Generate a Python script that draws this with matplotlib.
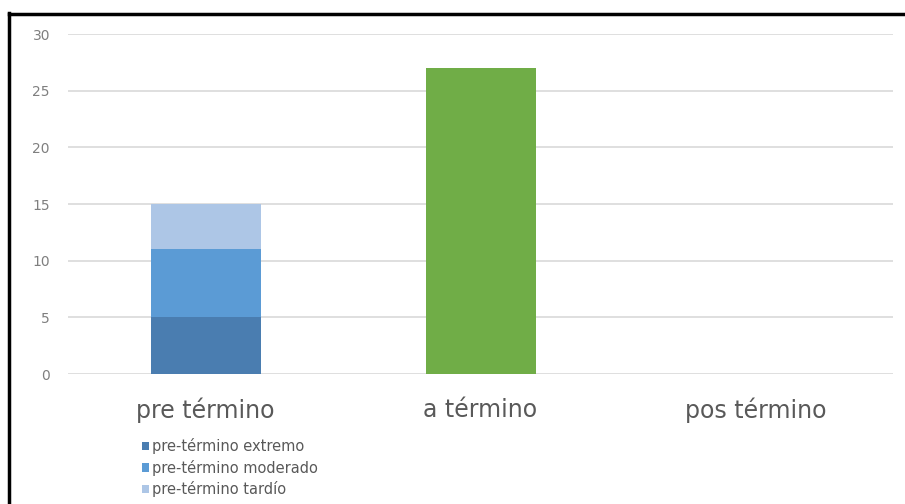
import numpy as np
import matplotlib.pyplot as plt
from matplotlib.lines import Line2D

plt.rcParams['font.family'] = ['DejaVu Sans']

categorias = ["pre término", "a término", "pos término"]
extremo = [5, 0, 0]
moderado = [6, 0, 0]
tardio = [4, 0, 0]
a_termino = [0, 27, 0]
etiquetas = ["pre-término extremo", "pre-término moderado", "pre-término tardío"]
yticks = [0, 5, 10, 15, 20, 25, 30]

fig = plt.figure(figsize=(9.05, 5.04), dpi=100)
ax = fig.add_axes([68 / 905, 130 / 504, 825 / 905, 340 / 504])

x = np.arange(len(categorias))
ancho = 0.4
extremo = np.array(extremo)
moderado = np.array(moderado)
tardio = np.array(tardio)

b1 = ax.bar(x, extremo, ancho, color='#4a7db0', label=etiquetas[0], zorder=2)
b2 = ax.bar(x, moderado, ancho, bottom=extremo, color='#5b9bd5', label=etiquetas[1], zorder=2)
b3 = ax.bar(x, tardio, ancho, bottom=extremo + moderado, color='#adc6e6', label=etiquetas[2], zorder=2)
ax.bar(x, a_termino, ancho, color='#70ad47', zorder=2)

ax.set_xlim(-0.5, len(categorias) - 0.5)
ax.set_ylim(0, 30)
ax.set_yticks(yticks)
ax.set_xticks(x)
ax.set_xticklabels(categorias, fontsize=17, color='#595959')
ax.tick_params(axis='y', length=0, pad=13, labelsize=10, labelcolor='#7f7f7f')
ax.tick_params(axis='x', length=0, pad=17)
ax.grid(axis='y', color='#d9d9d9', linewidth=1.2, zorder=0)
for s in ax.spines.values():
    s.set_visible(False)

fig.legend(handles=[b1, b2, b3], loc='upper left', bbox_to_anchor=(142 / 905, 1 - 438 / 504),
           frameon=False, fontsize=10.5, handlelength=0.5, handleheight=0.5,
           handletextpad=0.2, labelspacing=0.38, borderpad=0, borderaxespad=0,
           labelcolor='#595959')

# marco negro de la captura
fig.add_artist(Line2D([8.5 / 905, 8.5 / 905], [0, 1 - 13 / 504], color='black', linewidth=2.5))
fig.add_artist(Line2D([8.5 / 905, 1], [1 - 13.5 / 504, 1 - 13.5 / 504], color='black', linewidth=2.5))

fig.savefig("out.png", dpi=100)
